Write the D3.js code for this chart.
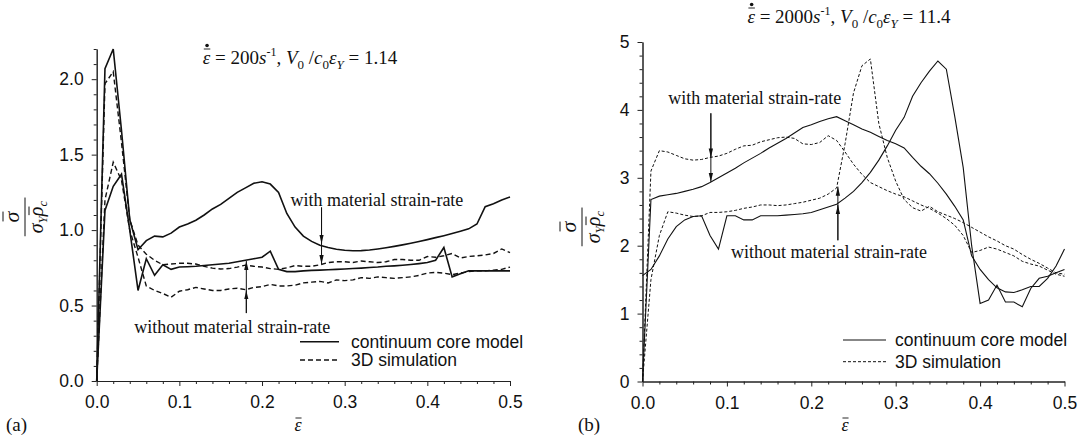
<!DOCTYPE html>
<html>
<head>
<meta charset="utf-8">
<script src="https://cdn.jsdelivr.net/npm/d3@7"></script>
<style>
  body { margin: 0; background: #fff; }
  text { fill: #111; }
</style>
</head>
<body>
<svg id="chart" width="1080" height="439"></svg>
<script>
// strain values shared by every curve
const strain = [0, 0.01, 0.02, 0.03, 0.04, 0.05, 0.06, 0.07, 0.08, 0.09,
  0.10, 0.11, 0.12, 0.13, 0.14, 0.15, 0.16, 0.17, 0.18, 0.19,
  0.20, 0.21, 0.22, 0.23, 0.24, 0.25, 0.26, 0.27, 0.28, 0.29,
  0.30, 0.31, 0.32, 0.33, 0.34, 0.35, 0.36, 0.37, 0.38, 0.39,
  0.40, 0.41, 0.42, 0.43, 0.44, 0.45, 0.46, 0.47, 0.48, 0.49, 0.50]

// (a) 200 1/s
const aWithModel = [0, 2.07, 2.2, 1.66, 1.07, 0.87, 0.93, 0.96, 0.955, 0.98,
  1.02, 1.04, 1.065, 1.1, 1.14, 1.17, 1.21, 1.25, 1.28, 1.31,
  1.32, 1.305, 1.25, 1.11, 1.02, 0.96, 0.925, 0.9, 0.885, 0.873,
  0.866, 0.863, 0.864, 0.868, 0.875, 0.883, 0.892, 0.902, 0.913, 0.925,
  0.937, 0.95, 0.963, 0.977, 0.992, 1.008, 1.04, 1.155, 1.175, 1.2, 1.22]
const aWithoutModel = [0, 1.13, 1.29, 1.37, 1.0, 0.6, 0.81, 0.7, 0.77, 0.74,
  0.755, 0.757, 0.76, 0.765, 0.77, 0.775, 0.78, 0.79, 0.8, 0.81,
  0.82, 0.86, 0.74, 0.725, 0.725, 0.73, 0.733, 0.735, 0.737, 0.74,
  0.742, 0.745, 0.748, 0.752, 0.755, 0.76, 0.763, 0.767, 0.772, 0.778,
  0.785, 0.8, 0.885, 0.69, 0.71, 0.73, 0.73, 0.73, 0.73, 0.73, 0.73]
const aWith3D = [0, 1.97, 2.05, 1.58, 1.07, 0.9, 0.84, 0.8, 0.77, 0.775,
  0.78, 0.78, 0.775, 0.76, 0.748, 0.742, 0.745, 0.755, 0.768, 0.76,
  0.755, 0.745, 0.74, 0.75, 0.765, 0.76, 0.76, 0.77, 0.785, 0.79,
  0.79, 0.785, 0.795, 0.79, 0.785, 0.79, 0.805, 0.805, 0.8, 0.8,
  0.825, 0.82, 0.83, 0.845, 0.815, 0.825, 0.83, 0.835, 0.845, 0.875, 0.85]
const aWithout3D = [0, 1.2, 1.45, 1.33, 1.0, 0.82, 0.63, 0.6, 0.58, 0.555,
  0.595, 0.605, 0.62, 0.61, 0.6, 0.6, 0.61, 0.615, 0.605, 0.62,
  0.625, 0.64, 0.63, 0.63, 0.635, 0.65, 0.655, 0.66, 0.65, 0.67,
  0.665, 0.67, 0.685, 0.68, 0.69, 0.685, 0.68, 0.685, 0.69, 0.7,
  0.715, 0.72, 0.715, 0.705, 0.715, 0.725, 0.73, 0.73, 0.735, 0.74, 0.755]

// (b) 2000 1/s
const bWithModel = [0, 2.68, 2.73, 2.75, 2.77, 2.8, 2.83, 2.87, 2.93, 3.0,
  3.07, 3.14, 3.22, 3.29, 3.36, 3.44, 3.51, 3.58, 3.66, 3.74,
  3.78, 3.83, 3.87, 3.9, 3.84, 3.78, 3.72, 3.67, 3.61, 3.55,
  3.5, 3.44, 3.3, 3.17, 3.06, 2.92, 2.76, 2.58, 2.38, 1.85,
  1.65, 1.5, 1.38, 1.32, 1.31, 1.35, 1.4, 1.4, 1.52, 1.7, 1.95]
const bWithoutModel = [1.56, 1.65, 1.85, 2.1, 2.28, 2.38, 2.43, 2.44, 2.15, 1.95,
  2.44, 2.44, 2.38, 2.38, 2.44, 2.44, 2.44, 2.45, 2.46, 2.47,
  2.49, 2.53, 2.57, 2.61, 2.7, 2.8, 2.93, 3.08, 3.26, 3.47,
  3.7, 3.89, 4.2, 4.4, 4.57, 4.72, 4.6, 3.9, 3.15, 2.0,
  1.15, 1.2, 1.42, 1.17, 1.17, 1.1, 1.37, 1.52, 1.55, 1.6, 1.65]
const bWith3D = [0, 3.1, 3.4, 3.38, 3.33, 3.28, 3.26, 3.27, 3.3, 3.32,
  3.36, 3.42, 3.47, 3.48, 3.53, 3.56, 3.59, 3.6, 3.58, 3.5,
  3.49, 3.52, 3.62, 3.55, 3.38, 3.2, 3.05, 2.93, 2.87, 2.81,
  2.76, 2.72, 2.66, 2.6, 2.55, 2.48, 2.4, 2.3, 2.15, 1.9,
  1.93, 1.98, 1.95, 1.9, 1.85, 1.77, 1.73, 1.7, 1.64, 1.58, 1.55]
const bWithout3D = [0, 1.5, 2.15, 2.5, 2.48, 2.45, 2.43, 2.44, 2.49, 2.49,
  2.5, 2.52, 2.55, 2.57, 2.6, 2.6, 2.59, 2.6, 2.62, 2.64,
  2.67, 2.7, 2.76, 2.85, 3.5, 4.25, 4.65, 4.75, 3.8, 3.3,
  2.95, 2.68, 2.56, 2.51, 2.58, 2.5, 2.45, 2.4, 2.34, 2.27,
  2.2, 2.13, 2.07, 2.0, 1.95, 1.87, 1.8, 1.74, 1.67, 1.6, 1.58]

const legendLabels = ["continuum core model", "3D simulation"]
const aTicksY = [0, 0.5, 1.0, 1.5, 2.0]
const bTicksY = [0, 1, 2, 3, 4, 5]
const ticksX = [0, 0.1, 0.2, 0.3, 0.4, 0.5]

const svg = d3.select("#chart")
const sans = "'Liberation Sans', Arial, sans-serif"
const serif = "'Liberation Serif', 'Times New Roman', serif"

svg.append("defs").append("marker")
  .attr("id", "head")
  .attr("viewBox", "0 0 10 10")
  .attr("refX", 10).attr("refY", 5)
  .attr("markerUnits", "userSpaceOnUse")
  .attr("markerWidth", 9).attr("markerHeight", 9)
  .attr("orient", "auto")
  .append("path").attr("d", "M0,2.6 L10,5 L0,7.4 Z").attr("fill", "#111")

// overline above one character of a text element
function overline(parent, textEl, idx, lift) {
  const box = textEl.node().getExtentOfChar(idx)
  parent.append("line")
    .attr("x1", box.x + 1).attr("x2", box.x + box.width)
    .attr("y1", box.y + lift).attr("y2", box.y + lift)
    .attr("stroke", "#111").attr("stroke-width", 0.9)
}

function drawPanel(cfg) {
  const x = d3.scaleLinear().domain([0, 0.5]).range(cfg.xr)
  const y = d3.scaleLinear().domain(cfg.yd).range(cfg.yr)
  const g = svg.append("g")

  // axes: major + minor ticks
  g.append("g").attr("transform", `translate(0,${cfg.yr[0]})`)
    .call(d3.axisBottom(x).tickValues(ticksX).tickSize(5).tickSizeOuter(0)
      .tickPadding(10).tickFormat(d3.format(".1f")))
  g.append("g").attr("transform", `translate(0,${cfg.yr[0]})`)
    .call(d3.axisBottom(x).tickValues(cfg.minorX).tickSize(3).tickSizeOuter(0).tickFormat(""))
  g.append("g").attr("transform", `translate(${cfg.xr[0]},0)`)
    .call(d3.axisLeft(y).tickValues(cfg.ticksY).tickSize(5).tickSizeOuter(0)
      .tickPadding(8).tickFormat(d3.format(cfg.fmt)))
  g.append("g").attr("transform", `translate(${cfg.xr[0]},0)`)
    .call(d3.axisLeft(y).tickValues(cfg.minorY).tickSize(3).tickSizeOuter(0).tickFormat(""))
  g.selectAll(".domain, .tick line").attr("stroke", "#222").attr("stroke-width", 1)
  g.selectAll(".tick text").attr("font-family", sans).attr("font-size", 17.5).attr("fill", "#111")

  // curves
  const line = d3.line().x((d, i) => x(strain[i])).y(d => y(d))
  cfg.series.forEach(s => {
    g.append("path").datum(s.values)
      .attr("d", line)
      .attr("fill", "none")
      .attr("stroke", "#111")
      .attr("stroke-width", s.dash ? cfg.dashW : cfg.solidW)
      .attr("stroke-dasharray", s.dash ? cfg.dash : null)
  })

  // annotations with arrows
  cfg.notes.forEach(n => {
    g.append("text").attr("x", x(n.tx)).attr("y", y(n.ty))
      .attr("text-anchor", "middle").attr("font-family", serif).attr("font-size", 18)
      .text(n.text)
    n.heads.forEach(h => {
      g.append("line")
        .attr("x1", x(n.ax)).attr("x2", x(n.ax))
        .attr("y1", y(n.from)).attr("y2", y(h))
        .attr("stroke", "#111").attr("stroke-width", 1)
        .attr("marker-end", "url(#head)")
    })
  })

  // legend
  legendLabels.forEach((lab, i) => {
    const ly = cfg.legY[i]
    g.append("line").attr("x1", cfg.legX[0]).attr("x2", cfg.legX[1])
      .attr("y1", ly).attr("y2", ly)
      .attr("stroke", "#111")
      .attr("stroke-width", i ? cfg.dashW : cfg.solidW)
      .attr("stroke-dasharray", i ? cfg.dash : null)
    g.append("text").attr("x", cfg.legX[2]).attr("y", ly + 6)
      .attr("font-family", sans).attr("font-size", 17.5).text(lab)
  })

  // title
  const t = g.append("text").attr("x", cfg.title[0]).attr("y", cfg.title[1])
    .attr("text-anchor", "middle").attr("font-family", serif).attr("font-size", 19)
  t.append("tspan").attr("font-style", "italic").text("ε")
  t.append("tspan").text(" = " + cfg.rate)
  t.append("tspan").attr("font-style", "italic").text("s")
  t.append("tspan").attr("font-size", 12).attr("dy", -8).text("-1")
  t.append("tspan").attr("dy", 8).text(", ")
  t.append("tspan").attr("font-style", "italic").text("V")
  t.append("tspan").attr("font-size", 13).attr("dy", 5).text("0")
  t.append("tspan").attr("dy", -5).text(" /")
  t.append("tspan").attr("font-style", "italic").text("c")
  t.append("tspan").attr("font-size", 13).attr("dy", 5).text("0")
  t.append("tspan").attr("font-style", "italic").attr("dy", -5).text("ε")
  t.append("tspan").attr("font-style", "italic").attr("font-size", 13).attr("dy", 5).text("Y")
  t.append("tspan").attr("dy", -5).text(" = " + cfg.ratio)
  overline(g, t, 0, 2)
  const eb = t.node().getExtentOfChar(0)
  g.append("circle").attr("cx", eb.x + eb.width / 2 + 0.5).attr("cy", eb.y - 1.5)
    .attr("r", 1.8).attr("fill", "#111")

  // x label
  const xl = g.append("text").attr("x", cfg.xLabel[0]).attr("y", cfg.xLabel[1])
    .attr("text-anchor", "middle").attr("font-family", serif)
    .attr("font-size", 18).attr("font-style", "italic").text("ε")
  overline(g, xl, 0, 3)

  // panel tag
  g.append("text").attr("x", cfg.tag[0]).attr("y", cfg.tag[1])
    .attr("font-family", serif).attr("font-size", 19).text(cfg.tagText)

  // y label: rotated fraction
  const yl = g.append("g").attr("transform", `translate(${cfg.yLabel[0]},${cfg.yLabel[1]}) rotate(-90)`)
  const num = yl.append("text").attr("x", 0).attr("y", -6).attr("text-anchor", "middle")
    .attr("font-family", serif).attr("font-size", 22).attr("font-style", "italic").text("σ")
  const den = yl.append("text").attr("x", 0).attr("y", 18).attr("text-anchor", "middle")
    .attr("font-family", serif).attr("font-size", 20).attr("font-style", "italic")
  den.append("tspan").text("σ")
  den.append("tspan").attr("font-size", 13).attr("dy", 4).text("Y")
  den.append("tspan").attr("dy", -4).text("ρ")
  den.append("tspan").attr("font-size", 13).attr("dy", 4).text("c")
  const db = den.node().getBBox()
  yl.append("line").attr("x1", db.x - 3).attr("x2", db.x + db.width + 3)
    .attr("y1", 0).attr("y2", 0).attr("stroke", "#111").attr("stroke-width", 1)
  ;[[num, 0], [den, 2]].forEach(([el, idx]) => {
    const b = el.node().getExtentOfChar(idx)
    yl.append("line").attr("x1", b.x + 1).attr("x2", b.x + b.width)
      .attr("y1", b.y + 4).attr("y2", b.y + 4)
      .attr("stroke", "#111").attr("stroke-width", 1)
  })
}

drawPanel({
  xr: [96.7, 510], yr: [381, 49], yd: [0, 2.2],
  ticksY: aTicksY, fmt: ".1f",
  minorY: [0.1, 0.2, 0.3, 0.4, 0.6, 0.7, 0.8, 0.9, 1.1, 1.2, 1.3, 1.4, 1.6, 1.7, 1.8, 1.9, 2.1, 2.2],
  minorX: [0.02, 0.04, 0.06, 0.08, 0.12, 0.14, 0.16, 0.18, 0.22, 0.24, 0.26, 0.28, 0.32, 0.34, 0.36, 0.38, 0.42, 0.44, 0.46, 0.48],
  solidW: 1.6, dashW: 1.4, dash: "5,3",
  series: [
    { values: aWithModel, dash: false },
    { values: aWithoutModel, dash: false },
    { values: aWith3D, dash: true },
    { values: aWithout3D, dash: true }
  ],
  notes: [
    { text: "with material strain-rate", tx: 0.339, ty: 1.16, ax: 0.272, from: 1.15, heads: [0.91, 0.775] },
    { text: "without material strain-rate", tx: 0.164, ty: 0.32, ax: 0.181, from: 0.45, heads: [0.6, 0.795] }
  ],
  legX: [300, 339, 351], legY: [341.7, 360],
  title: [300, 64], rate: "200", ratio: "1.14",
  xLabel: [298, 431], tag: [6, 431], tagText: "(a)",
  yLabel: [25, 217]
})

drawPanel({
  xr: [642.5, 1064.5], yr: [381.5, 42], yd: [0, 5],
  ticksY: bTicksY, fmt: "d",
  minorY: [0.2, 0.4, 0.6, 0.8, 1.2, 1.4, 1.6, 1.8, 2.2, 2.4, 2.6, 2.8, 3.2, 3.4, 3.6, 3.8, 4.2, 4.4, 4.6, 4.8],
  minorX: [0.02, 0.04, 0.06, 0.08, 0.12, 0.14, 0.16, 0.18, 0.22, 0.24, 0.26, 0.28, 0.32, 0.34, 0.36, 0.38, 0.42, 0.44, 0.46, 0.48],
  solidW: 1.1, dashW: 1, dash: "3,2",
  series: [
    { values: bWithModel, dash: false },
    { values: bWithoutModel, dash: false },
    { values: bWith3D, dash: true },
    { values: bWithout3D, dash: true }
  ],
  notes: [
    { text: "with material strain-rate", tx: 0.133, ty: 4.08, ax: 0.081, from: 3.95, heads: [3.3, 2.94] },
    { text: "without material strain-rate", tx: 0.221, ty: 1.82, ax: 0.2315, from: 2.08, heads: [2.6, 2.87] }
  ],
  legX: [843, 886, 895], legY: [340, 361.7],
  title: [849, 23], rate: "2000", ratio: "11.4",
  xLabel: [845, 431], tag: [578, 431], tagText: "(b)",
  yLabel: [582, 227]
})
</script>
</body>
</html>
